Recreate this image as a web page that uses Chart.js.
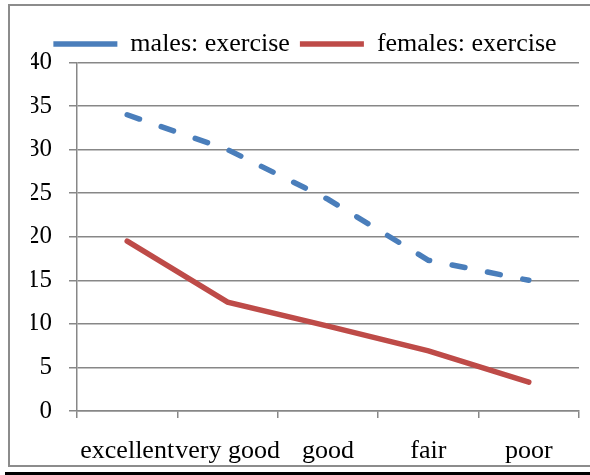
<!DOCTYPE html>
<html>
<head>
<meta charset="utf-8">
<script src="https://cdn.jsdelivr.net/npm/chart.js@4"></script>
<style>
  html, body { margin: 0; padding: 0; background: #fff; }
  #wrap { width: 590px; height: 475px; }
</style>
</head>
<body>
<div id="wrap"><canvas id="myChart" width="590" height="475"></canvas></div>
<script>
const categories = ['excellent', 'very good', 'good', 'fair', 'poor'];
const malesExercise = [34, 30, 24.3, 17.3, 15];
const femalesExercise = [19.5, 12.5, 9.75, 6.9, 3.3];
const yTicks = [0, 5, 10, 15, 20, 25, 30, 35, 40];

const serif = "'Liberation Serif', 'Times New Roman', serif";
const gridGray = '#878787';

Chart.defaults.font.family = serif;
Chart.defaults.color = '#000';

// frame around the whole picture (gray box, black rule at the bottom)
const framePlugin = {
    id: 'frame',
    beforeDraw(chart) {
        const c = chart.ctx;
        c.save();
        c.fillStyle = '#fff';
        c.fillRect(0, 0, chart.width, chart.height);
        c.strokeStyle = '#8c8c8c';
        c.lineWidth = 2;
        c.strokeRect(9, 5, 600, 461);
        c.fillStyle = '#000';
        c.fillRect(5, 472, 590, 3);
        c.restore();
    }
};

// keep the legend a fixed height so the plot top lands where it should
const legendHeight = {
    id: 'legendHeight',
    beforeInit(chart) {
        const fit = chart.legend.fit;
        chart.legend.fit = function () {
            fit.bind(chart.legend)();
            this.height = 41.5;
        };
    }
};

const ctx = document.getElementById('myChart').getContext('2d');
const chart = new Chart(ctx, {
    type: 'line',
    data: {
        labels: categories,
        datasets: [{
            label: 'males: exercise',
            data: malesExercise,
            borderColor: '#4a7ebb',
            backgroundColor: '#4a7ebb',
            borderWidth: 5.5,
            borderDash: [13, 23],
            borderCapStyle: 'round',
            pointRadius: 0,
            tension: 0
        }, {
            label: 'females: exercise',
            data: femalesExercise,
            borderColor: '#be4b48',
            backgroundColor: '#be4b48',
            borderWidth: 5.5,
            borderCapStyle: 'round',
            pointRadius: 0,
            tension: 0
        }]
    },
    options: {
        responsive: false,
        animation: false,
        layout: {
            padding: { left: 31, right: 11, top: 21, bottom: 0 }
        },
        scales: {
            x: {
                offset: true,
                grid: {
                    offset: true,
                    drawOnChartArea: false,
                    drawTicks: true,
                    tickLength: 7,
                    color: gridGray,
                    lineWidth: 1.5
                },
                border: { color: gridGray, width: 1.5 },
                ticks: {
                    autoSkip: false,
                    maxRotation: 0,
                    minRotation: 0,
                    padding: 18,
                    color: '#000',
                    font: { family: serif, size: 26 }
                },
                afterFit(scale) { scale.height = 64; }
            },
            y: {
                min: 0,
                max: 40,
                afterBuildTicks(scale) {
                    scale.ticks = yTicks.map(v => ({ value: v }));
                },
                grid: {
                    color: gridGray,
                    lineWidth: 1.5,
                    tickLength: 8
                },
                border: { color: gridGray, width: 1.5 },
                ticks: {
                    padding: 17,
                    color: '#000',
                    font: { family: serif, size: 25 }
                },
                afterFit(scale) { scale.width = 46; }
            }
        },
        plugins: {
            legend: {
                position: 'top',
                labels: {
                    usePointStyle: true,
                    pointStyle: 'line',
                    pointStyleWidth: 64,
                    padding: 10,
                    color: '#000',
                    font: { family: serif, size: 26 }
                }
            },
            tooltip: { enabled: false }
        }
    },
    plugins: [framePlugin, legendHeight]
});
</script>
</body>
</html>
